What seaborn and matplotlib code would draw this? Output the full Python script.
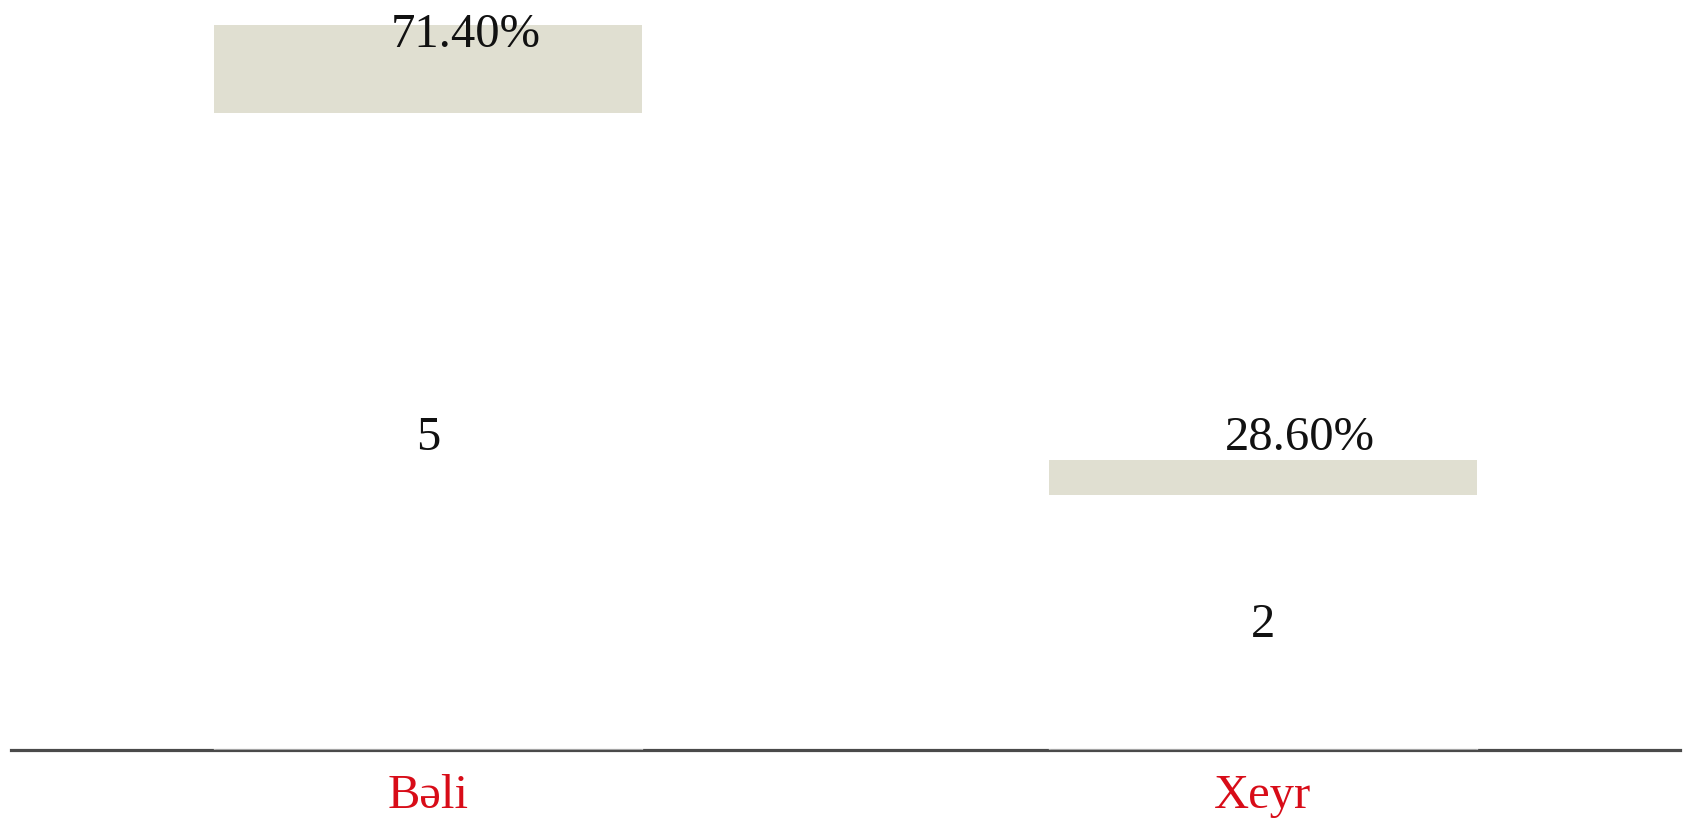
import matplotlib
matplotlib.use('Agg')
import matplotlib.pyplot as plt
import seaborn as sns
import pandas as pd

# chart data
categories = ['Bəli', 'Xeyr']
counts = [5, 2]
percent_labels = ['71.40%', '28.60%']

df = pd.DataFrame({'answer': categories, 'count': counts})

sns.set_theme(style='white')
plt.rcParams['font.family'] = ['Liberation Serif', 'DejaVu Serif']

fig = plt.figure(figsize=(16.85, 8.23), dpi=100)
ax = fig.add_axes([11 / 1685, 73 / 823, 1669 / 1685, 750 / 823])

# white bar bodies laid over the axis line (line shows lighter through them)
sns.barplot(data=df, x='answer', y='count', color='white', width=0.513,
            saturation=1, ax=ax, zorder=3, alpha=0.45)

# grey cap on the top part of each bar
cap = 0.122
x = range(len(categories))
ax.bar(x, [c * cap for c in counts], bottom=[c * (1 - cap) for c in counts],
       width=0.513, color='#e0dfd1', zorder=4, linewidth=0)

ymax = 5.17
ax.set_ylim(0, ymax)
ax.set_xlim(-0.5, 1.5)

for i, (c, p) in enumerate(zip(counts, percent_labels)):
    ax.text(i, c * 0.43, str(c), ha='center', va='center', fontsize=35,
            color='#111111', zorder=5)
    ax.text(i + 0.045, min(c + 0.15, ymax - 0.24), p, ha='center', va='center',
            fontsize=35, color='#111111', zorder=5)

for s in ['top', 'left', 'right']:
    ax.spines[s].set_visible(False)
ax.spines['bottom'].set_color('#4a4a4a')
ax.spines['bottom'].set_linewidth(2.3)
ax.spines['bottom'].set_zorder(2)

ax.set_yticks([])
ax.set_xlabel('')
ax.set_ylabel('')
ax.tick_params(axis='x', length=0, pad=17, labelsize=35, labelcolor='#d80c18')

fig.savefig('out.png', dpi=100, facecolor='white')
